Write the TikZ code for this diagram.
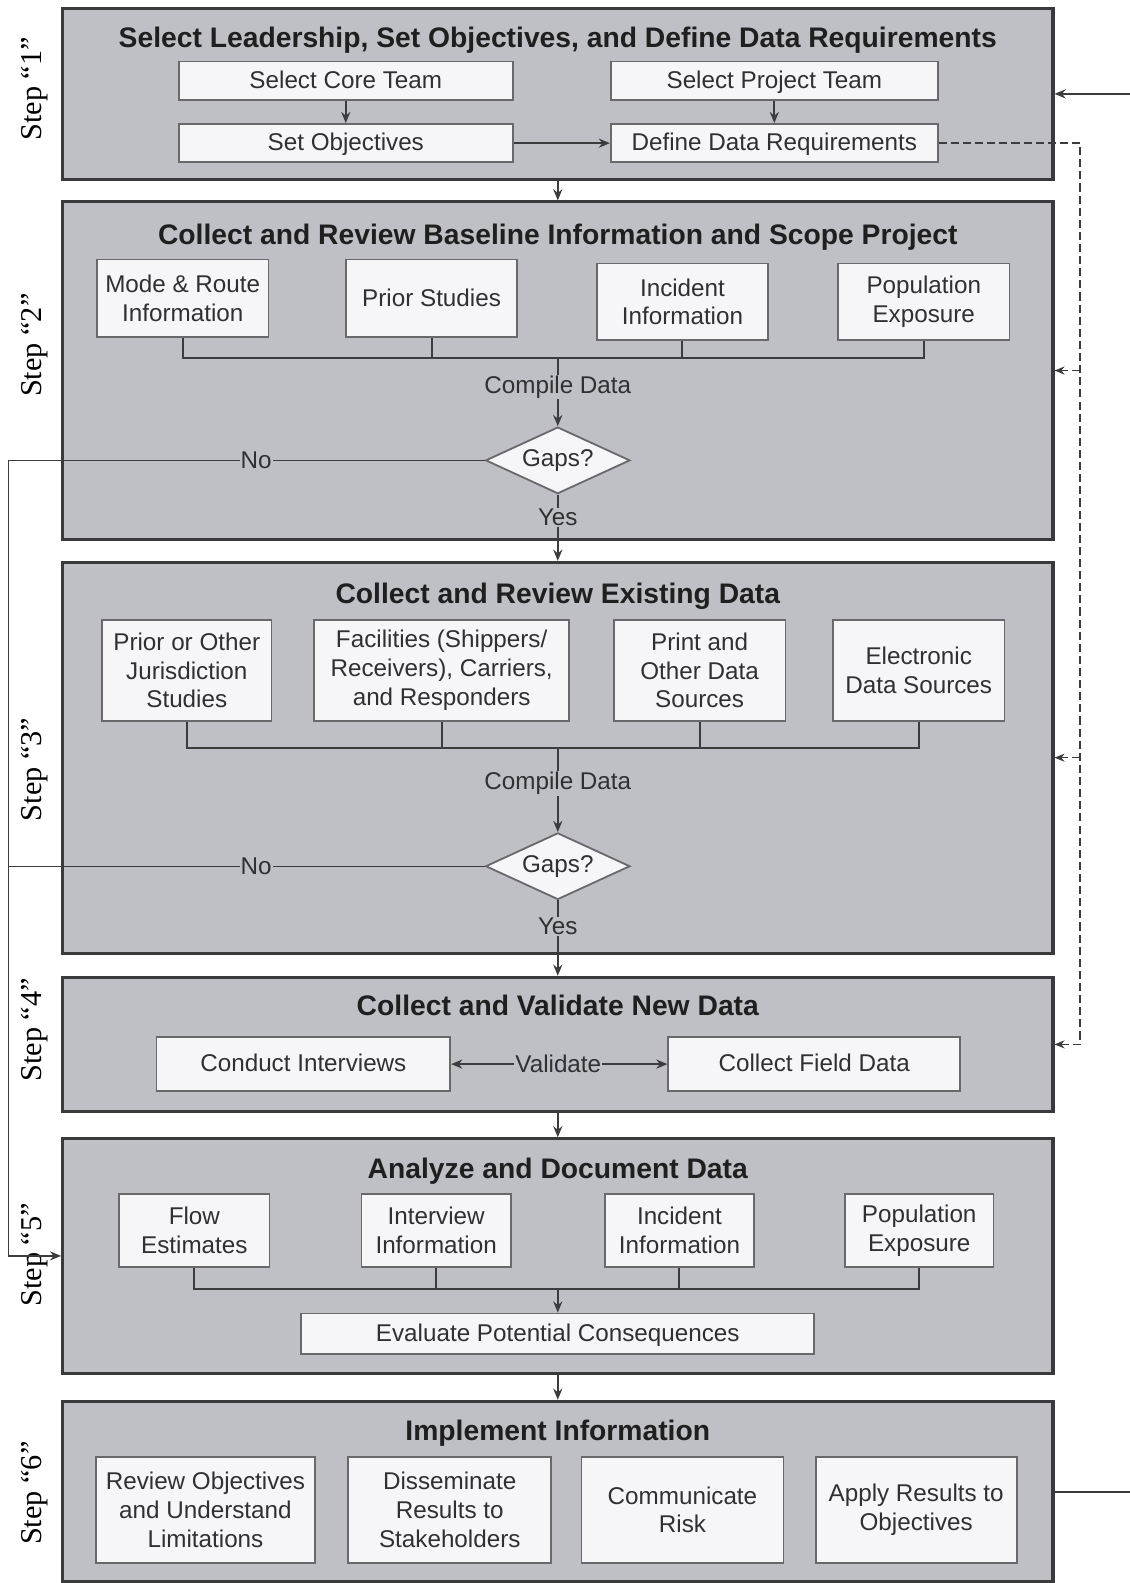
\documentclass[tikz,border=0pt]{standalone}
\usepackage{fontspec}
\setmainfont{Liberation Sans}
\newfontfamily\stepfont{Liberation Serif}
\usetikzlibrary{arrows.meta,shapes.geometric,positioning}
\usepackage{xcolor}
\definecolor{stagefill}{RGB}{191,192,197}
\definecolor{stageline}{RGB}{58,58,60}
\definecolor{boxfill}{RGB}{246,246,248}
\definecolor{boxline}{RGB}{105,105,108}
\definecolor{inktext}{RGB}{48,48,50}
\definecolor{wirecol}{RGB}{60,60,62}

\begin{document}
\begin{tikzpicture}[
		x=1pt,y=1pt,
		stage/.style={draw=stageline,fill=stagefill,line width=3pt,minimum width=981pt,inner sep=0pt},
		box/.style={draw=boxline,fill=boxfill,line width=1.8pt,align=center,inner sep=0pt,text=inktext,font=\fontsize{24}{28.5}\selectfont},
		oneline/.style={text height=18.5pt,text depth=3pt},
		gap/.style={diamond,draw=boxline,fill=boxfill,line width=1.8pt,inner sep=0pt,minimum width=143pt,minimum height=66pt,aspect=2.17,text=inktext,font=\fontsize{24}{28}\selectfont},
		heading/.style={font=\fontsize{28}{31}\selectfont\bfseries,text=black!88},
		lbl/.style={font=\fontsize{24}{28}\selectfont,text=inktext,fill=stagefill,inner sep=1pt},
		steplbl/.style={font=\stepfont\fontsize{30}{33}\selectfont,rotate=90},
		wire/.style={draw=wirecol,line width=2pt},
		arr/.style={wire,-{Stealth[length=11pt,width=9pt]}},
		fb/.style={draw=wirecol,line width=1.5pt,dash pattern=on 8pt off 4pt,-{Stealth[length=10pt,width=8pt]}}
		]
		
		\useasboundingbox (0,0) rectangle (1119,-1568);
		
		% Stages
		\node[stage,minimum height=170pt] (s1) at (552.5,-93) {};
		\node[stage,minimum height=334pt] (s2) at (552.5,-367) {};
		\node[stage,minimum height=387pt] (s3) at (552.5,-750.5) {};
		\node[stage,minimum height=133pt] (s4) at (552.5,-1034.5) {};
		\node[stage,minimum height=232pt] (s5) at (552.5,-1244) {};
		\node[stage,minimum height=179pt] (s6) at (552.5,-1477.5) {};
		
		\node[heading,below=17pt of s1.north] (t1) {Select Leadership, Set Objectives, and Define Data Requirements};
		\node[heading,below=20pt of s2.north] (t2) {Collect and Review Baseline Information and Scope Project};
		\node[heading,below=18pt of s3.north] (t3) {Collect and Review Existing Data};
		\node[heading,below=16pt of s4.north] (t4) {Collect and Validate New Data};
		\node[heading,below=17pt of s5.north] (t5) {Analyze and Document Data};
		\node[heading,below=17pt of s6.north] (t6) {Implement Information};
		
		% Step labels
		\node[steplbl] (st1) at (34,-88) {Step “1”};
		\node[steplbl] (st2) at (34,-342) {Step “2”};
		\node[steplbl] (st3) at (34,-762) {Step “3”};
		\node[steplbl] (st4) at (34,-1020) {Step “4”};
		\node[steplbl] (st5) at (34,-1243) {Step “5”};
		\node[steplbl] (st6) at (34,-1479) {Step “6”};
		
		% Step 1
		\node[box,oneline,minimum width=331pt,minimum height=38pt] (core) at (342.5,-80) {Select Core Team};
		\node[box,oneline,minimum width=324pt,minimum height=38pt] (proj) at (767,-80) {Select Project Team};
		\node[box,oneline,minimum width=331pt,minimum height=38pt,below=22pt of core] (obj) {Set Objectives};
		\node[box,oneline,minimum width=324pt,minimum height=38pt,below=22pt of proj] (req) {Define Data Requirements};
		
		% Step 2
		\node[box,minimum width=170pt,minimum height=77pt] (mode) at (181,-295.5) {Mode \& Route\\Information};
		\node[box,oneline,minimum width=169pt,minimum height=77pt] (prior) at (427.5,-295.5) {Prior Studies};
		\node[box,minimum width=170pt,minimum height=76pt] (inc) at (676,-299) {Incident\\Information};
		\node[box,minimum width=170pt,minimum height=76pt] (pop) at (915,-299) {Population\\Exposure};
		\coordinate (bus1) at (552.5,-355);
		\node[gap] (gaps1) at (552.5,-456) {Gaps?};
		
		% Step 3
		\node[box,minimum width=168pt,minimum height=100pt] (jur) at (185,-664) {Prior or Other\\Jurisdiction\\Studies};
		\node[box,minimum width=253pt,minimum height=100pt] (fac) at (437.5,-664) {Facilities (Shippers/\\Receivers), Carriers,\\and Responders};
		\node[box,minimum width=170pt,minimum height=100pt] (print) at (693,-664) {Print and\\Other Data\\Sources};
		\node[box,minimum width=170pt,minimum height=100pt] (elec) at (910,-664) {Electronic\\Data Sources};
		\coordinate (bus2) at (552.5,-741);
		\node[gap] (gaps2) at (552.5,-858) {Gaps?};
		
		% Step 4
		\node[box,oneline,minimum width=291pt,minimum height=54pt] (intv) at (300.5,-1054) {Conduct Interviews};
		\node[box,oneline,minimum width=289pt,minimum height=54pt] (field) at (806.5,-1054) {Collect Field Data};
		\node[lbl] (valid) at (553,-1054) {Validate};
		
		% Step 5
		\node[box,minimum width=149pt,minimum height=72pt] (flow) at (192.5,-1219) {Flow\\Estimates};
		\node[box,minimum width=148pt,minimum height=72pt] (intinfo) at (432,-1219) {Interview\\Information};
		\node[box,minimum width=148pt,minimum height=72pt] (incinfo) at (673,-1219) {Incident\\Information};
		\node[box,minimum width=147pt,minimum height=72pt] (pop2) at (910.5,-1219) {Population\\Exposure};
		\coordinate (bus3) at (552.5,-1277);
		\node[box,oneline,minimum width=508pt,minimum height=40pt] (eval) at (552.5,-1321) {Evaluate Potential Consequences};
		
		% Step 6
		\node[box,minimum width=217pt,minimum height=105pt] (rev) at (203.5,-1495.5) {Review Objectives\\and Understand\\Limitations};
		\node[box,minimum width=201pt,minimum height=105pt] (dis) at (445.5,-1495.5) {Disseminate\\Results to\\Stakeholders};
		\node[box,minimum width=200pt,minimum height=105pt] (com) at (676,-1495.5) {Communicate\\Risk};
		\node[box,minimum width=199pt,minimum height=105pt] (app) at (907.5,-1495.5) {Apply Results to\\Objectives};
		
		% Flow between stages
		\draw[arr] (s1.south) -- (s2.north);
		\draw[arr] (gaps1.south) -- node[lbl,pos=0.34] {Yes} (s3.north);
		\draw[arr] (gaps2.south) -- node[lbl,pos=0.34] {Yes} (s4.north);
		\draw[arr] (s4.south) -- (s5.north);
		\draw[arr] (s5.south) -- (s6.north);
		
		% Inside the stages
		\draw[arr] (core) -- (obj);
		\draw[arr] (proj) -- (req);
		\draw[arr] (obj) -- (req);
		
		\draw[wire] (mode.south) |- (bus1) -| (pop.south);
		\draw[wire] (prior.south) -- (prior.south |- bus1);
		\draw[wire] (inc.south) -- (inc.south |- bus1);
		\draw[arr] (bus1) -- node[lbl,pos=0.42] {Compile Data} (gaps1.north);
		
		\draw[wire] (jur.south) |- (bus2) -| (elec.south);
		\draw[wire] (fac.south) -- (fac.south |- bus2);
		\draw[wire] (print.south) -- (print.south |- bus2);
		\draw[arr] (bus2) -- node[lbl,pos=0.42] {Compile Data} (gaps2.north);
		
		\draw[arr] (valid) -- (intv);
		\draw[arr] (valid) -- (field);
		
		\draw[wire] (flow.south) |- (bus3) -| (pop2.south);
		\draw[wire] (intinfo.south) -- (intinfo.south |- bus3);
		\draw[wire] (incinfo.south) -- (incinfo.south |- bus3);
		\draw[arr] (bus3) -- (eval.north);
		
		% No gaps: skip to step 5
		\coordinate (lft) at (8.5,0);
		\draw[arr,line width=1.4pt] (gaps1.west) -- node[lbl,pos=0.48] {No} (gaps1.west -| lft) |- (s5.west);
		\draw[wire,line width=1.4pt] (gaps2.west) -- node[lbl,pos=0.48] {No} (gaps2.west -| lft);
		
		% Feedback loops
		\coordinate (rgt) at (1128,0);
		\draw[arr] (s6.east) -| (rgt |- s1.east) -- (s1.east);
		\coordinate (dsh) at (1070,0);
		\draw[fb] (req.east) -| (dsh |- s4.east) -- (s4.east);
		\draw[fb] (dsh |- s2.east) -- (s2.east);
		\draw[fb] (dsh |- s3.east) -- (s3.east);
		
	\end{tikzpicture}
\end{document}
